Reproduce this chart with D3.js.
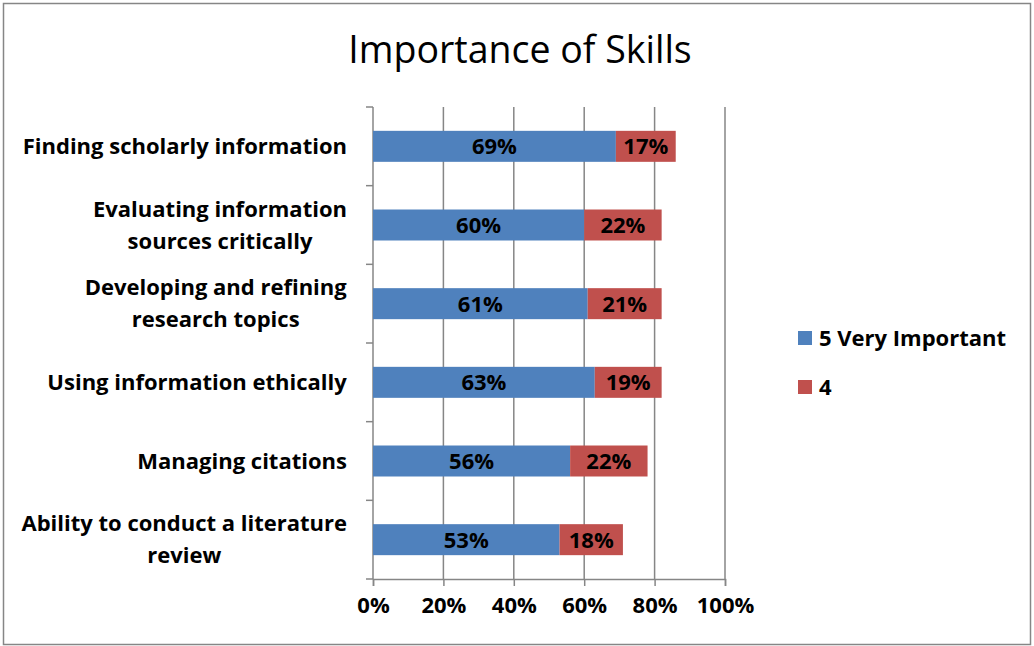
<!DOCTYPE html>
<html>
<head>
<meta charset="utf-8">
<script src="https://cdn.jsdelivr.net/npm/d3@7"></script>
<style>
  body { margin: 0; background: #fff; }
  text { font-family: "Open Sans", Lato, sans-serif; }
</style>
</head>
<body>
<div id="chart"></div>
<script>
const categories = [
  "Finding scholarly information",
  "Evaluating information sources critically",
  "Developing and refining research topics",
  "Using information ethically",
  "Managing citations",
  "Ability to conduct a literature review"
];
const labelLines = [
  ["Finding scholarly information"],
  ["Evaluating information", "sources critically"],
  ["Developing and refining", "research topics"],
  ["Using information ethically "],
  ["Managing citations"],
  ["Ability to conduct a literature", "review"]
];
const veryImportant = [69, 60, 61, 63, 56, 53];
const important4 = [17, 22, 21, 19, 22, 18];
const seriesNames = ["5 Very Important", "4"];
const xTicks = [0, 20, 40, 60, 80, 100];

const width = 1034;
const height = 646;
const margin = { top: 107, right: 309, bottom: 67, left: 373 };
const colors = ["#4F81BD", "#C0504D"];
const boldFont = "'Open Sans', sans-serif";
const boldSize = 22;

const svg = d3.select("#chart")
  .append("svg")
  .attr("width", width)
  .attr("height", height);

// outer frame
svg.append("rect")
  .attr("x", 3.5).attr("y", 3.5)
  .attr("width", 1027).attr("height", 641)
  .attr("fill", "#fff")
  .attr("stroke", "#868686")
  .attr("stroke-width", 1.5);

svg.append("text")
  .attr("x", 520)
  .attr("y", 63)
  .attr("text-anchor", "middle")
  .attr("font-family", "Lato, sans-serif")
  .attr("font-size", 37.5)
  .attr("fill", "#000")
  .text("Importance of Skills");

const chartWidth = width - margin.left - margin.right;
const chartHeight = height - margin.top - margin.bottom;

const g = svg.append("g")
  .attr("transform", `translate(${margin.left},${margin.top})`);

const x = d3.scaleLinear().domain([0, 100]).range([0, chartWidth]);
const y = d3.scaleBand()
  .domain(categories)
  .range([0, chartHeight])
  .paddingInner(0.606)
  .paddingOuter(0.303);

// gridlines
g.append("g")
  .selectAll("line")
  .data(xTicks.slice(1))
  .join("line")
  .attr("x1", d => x(d)).attr("x2", d => x(d))
  .attr("y1", 0).attr("y2", chartHeight)
  .attr("stroke", "#868686")
  .attr("stroke-width", 1.5);

// x axis
const xAxis = g.append("g")
  .attr("transform", `translate(0,${chartHeight})`)
  .call(d3.axisBottom(x).tickValues(xTicks).tickFormat(d => d + "%").tickSize(7).tickPadding(11));
xAxis.select(".domain").attr("stroke", "#868686").attr("stroke-width", 1.5);
xAxis.selectAll(".tick line").attr("stroke", "#868686").attr("stroke-width", 1.5);
xAxis.selectAll(".tick text")
  .attr("font-family", boldFont)
  .attr("font-size", boldSize)
  .attr("font-weight", "bold")
  .attr("fill", "#000");

// y axis: ticks at band boundaries
const step = y.step();
const yAxisG = g.append("g");
yAxisG.append("line")
  .attr("x1", 0).attr("x2", 0)
  .attr("y1", 0).attr("y2", chartHeight)
  .attr("stroke", "#868686").attr("stroke-width", 1.5);
yAxisG.selectAll(".ytick")
  .data(d3.range(categories.length + 1))
  .join("line")
  .attr("class", "ytick")
  .attr("x1", -7).attr("x2", 0)
  .attr("y1", i => i * step).attr("y2", i => i * step)
  .attr("stroke", "#868686").attr("stroke-width", 1.5);

// category labels
const labels = g.append("g");
categories.forEach((c, i) => {
  const lines = labelLines[i];
  const cy = y(c) + y.bandwidth() / 2;
  const lh = 32;
  const t = labels.append("text")
    .attr("font-family", boldFont)
    .attr("font-size", boldSize)
    .attr("font-weight", "bold")
    .attr("fill", "#000")
    .attr("text-anchor", "middle");
  lines.forEach((ln, j) => {
    t.append("tspan")
      .attr("x", 0)
      .attr("y", cy + (j - (lines.length - 1) / 2) * lh)
      .attr("dy", "0.35em")
      .text(ln);
  });
  // right align block at x=-26
  const w = t.node().getBBox().width;
  t.attr("transform", `translate(${-26 - w / 2},0)`);
});

// stacked bars
const rows = categories.map((c, i) => ({ cat: c, vals: [veryImportant[i], important4[i]] }));
rows.forEach(r => {
  let acc = 0;
  r.vals.forEach((v, k) => {
    const x0 = acc;
    acc += v;
    g.append("rect")
      .attr("x", x(x0))
      .attr("y", y(r.cat))
      .attr("width", x(acc) - x(x0))
      .attr("height", y.bandwidth())
      .attr("fill", colors[k]);
    g.append("text")
      .attr("x", x(x0 + v / 2))
      .attr("y", y(r.cat) + y.bandwidth() / 2)
      .attr("dy", "0.36em")
      .attr("text-anchor", "middle")
      .attr("font-family", boldFont)
      .attr("font-size", boldSize)
      .attr("font-weight", "bold")
      .attr("fill", "#000")
      .text(v + "%");
  });
});

// legend
const legend = svg.append("g").attr("transform", "translate(798,338)");
seriesNames.forEach((s, k) => {
  const lg = legend.append("g").attr("transform", `translate(0,${k * 49})`);
  lg.append("rect")
    .attr("x", 0).attr("y", -7)
    .attr("width", 14).attr("height", 14)
    .attr("fill", colors[k]);
  lg.append("text")
    .attr("x", 21)
    .attr("y", 0)
    .attr("dy", "0.36em")
    .attr("font-family", boldFont)
    .attr("font-size", boldSize)
    .attr("font-weight", "bold")
    .attr("fill", "#000")
    .text(s);
});
</script>
</body>
</html>
